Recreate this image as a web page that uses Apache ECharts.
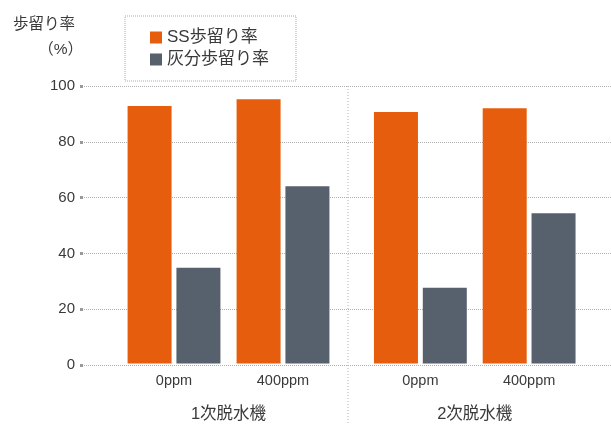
<!DOCTYPE html>
<html><head><meta charset="utf-8">
<script src="https://cdn.jsdelivr.net/npm/echarts@6/dist/echarts.min.js"></script>
<style>html,body{margin:0;padding:0;background:#fff}#c{width:611px;height:428px}</style>
</head><body><div id="c"></div>
<script>
const categories = ['0ppm', '400ppm'];
const groups = ['1次脱水機', '2次脱水機'];
const seriesNames = ['SS歩留り率', '灰分歩留り率'];
const ssValues1 = [92.8, 95.2];
const ashValues1 = [34.5, 63.9];
const ssValues2 = [90.6, 92.0];
const ashValues2 = [27.3, 54.1];
const yMin = 0, yMax = 100, yStep = 20;
const yNameLine1 = '歩留り率';
const yNameLine2 = '（%）';

const FONT = '"Liberation Sans", "Noto Sans CJK JP", sans-serif';
const ORANGE = '#E65E0D';
const GRAY = '#57616D';
const TXT = '#3a3a3a';
const TOP = 86, BOTTOM = 63;

const chart = echarts.init(document.getElementById('c'), null, {renderer: 'canvas'});

function barGrid(i) {
  return {
    type: 'category', gridIndex: i, data: categories,
    axisLine: {show: false}, axisTick: {show: false},
    axisLabel: {fontSize: 14.5, color: TXT, fontFamily: FONT, margin: 10},
    name: groups[i - 1], nameLocation: 'middle', nameGap: 43,
    nameTextStyle: {fontSize: 16.5, color: TXT, fontFamily: FONT}
  };
}
function hiddenY(i) {
  return {type: 'value', gridIndex: i, min: yMin, max: yMax, interval: yStep, show: false};
}

chart.setOption({
  animation: false,
  legend: {
    orient: 'vertical', left: 125, top: 16,
    data: seriesNames,
    icon: 'rect', itemWidth: 12, itemHeight: 12, itemGap: 5,
    padding: [13, 27, 13, 25],
    borderColor: '#aaa', borderWidth: 1, borderType: 'dotted',
    textStyle: {fontSize: 17, color: TXT, fontFamily: FONT, lineHeight: 17}
  },
  grid: [
    {left: 80, right: 0, top: TOP, bottom: BOTTOM},
    {left: 119.5, width: 218, top: TOP, bottom: BOTTOM},
    {left: 366, width: 217.5, top: TOP, bottom: BOTTOM}
  ],
  xAxis: [
    {type: 'value', gridIndex: 0, show: false, min: 0, max: 1},
    barGrid(1),
    barGrid(2)
  ],
  yAxis: [
    {
      type: 'value', gridIndex: 0, min: yMin, max: yMax, interval: yStep,
      axisLine: {show: false},
      axisTick: {show: true, length: 3, inside: true, lineStyle: {color: '#999', width: 3}},
      axisLabel: {fontSize: 15, color: TXT, fontFamily: FONT, margin: 5},
      splitLine: {show: true, lineStyle: {color: '#b0b0b0', type: 'dotted', width: 1}},
      name: '{a|' + yNameLine1 + '}\n{b|' + yNameLine2 + '}', nameLocation: 'end', nameGap: 24,
      nameTextStyle: {fontSize: 15.5, color: TXT, fontFamily: FONT, align: 'right',
        verticalAlign: 'bottom', lineHeight: 25, padding: [0, -3, 0, 0],
        rich: {
          a: {fontSize: 15.5, color: TXT, fontFamily: FONT, lineHeight: 25, padding: [0, 8, 0, 0]},
          b: {fontSize: 15.5, color: TXT, fontFamily: FONT, lineHeight: 25}
        }}
    },
    hiddenY(1),
    hiddenY(2)
  ],
  graphic: [{
    type: 'line', z: 0,
    shape: {x1: 348, y1: 86, x2: 348, y2: 424},
    style: {stroke: '#b0b0b0', lineWidth: 1, lineDash: [1, 2]}
  }],
  series: [
    {name: seriesNames[0], type: 'bar', xAxisIndex: 1, yAxisIndex: 1, data: ssValues1,
      barWidth: 44, barGap: '11%', itemStyle: {color: ORANGE}},
    {name: seriesNames[1], type: 'bar', xAxisIndex: 1, yAxisIndex: 1, data: ashValues1,
      barWidth: 44, barGap: '11%', itemStyle: {color: GRAY}},
    {name: seriesNames[0], type: 'bar', xAxisIndex: 2, yAxisIndex: 2, data: ssValues2,
      barWidth: 44, barGap: '11%', itemStyle: {color: ORANGE}},
    {name: seriesNames[1], type: 'bar', xAxisIndex: 2, yAxisIndex: 2, data: ashValues2,
      barWidth: 44, barGap: '11%', itemStyle: {color: GRAY}}
  ]
});
</script></body></html>
